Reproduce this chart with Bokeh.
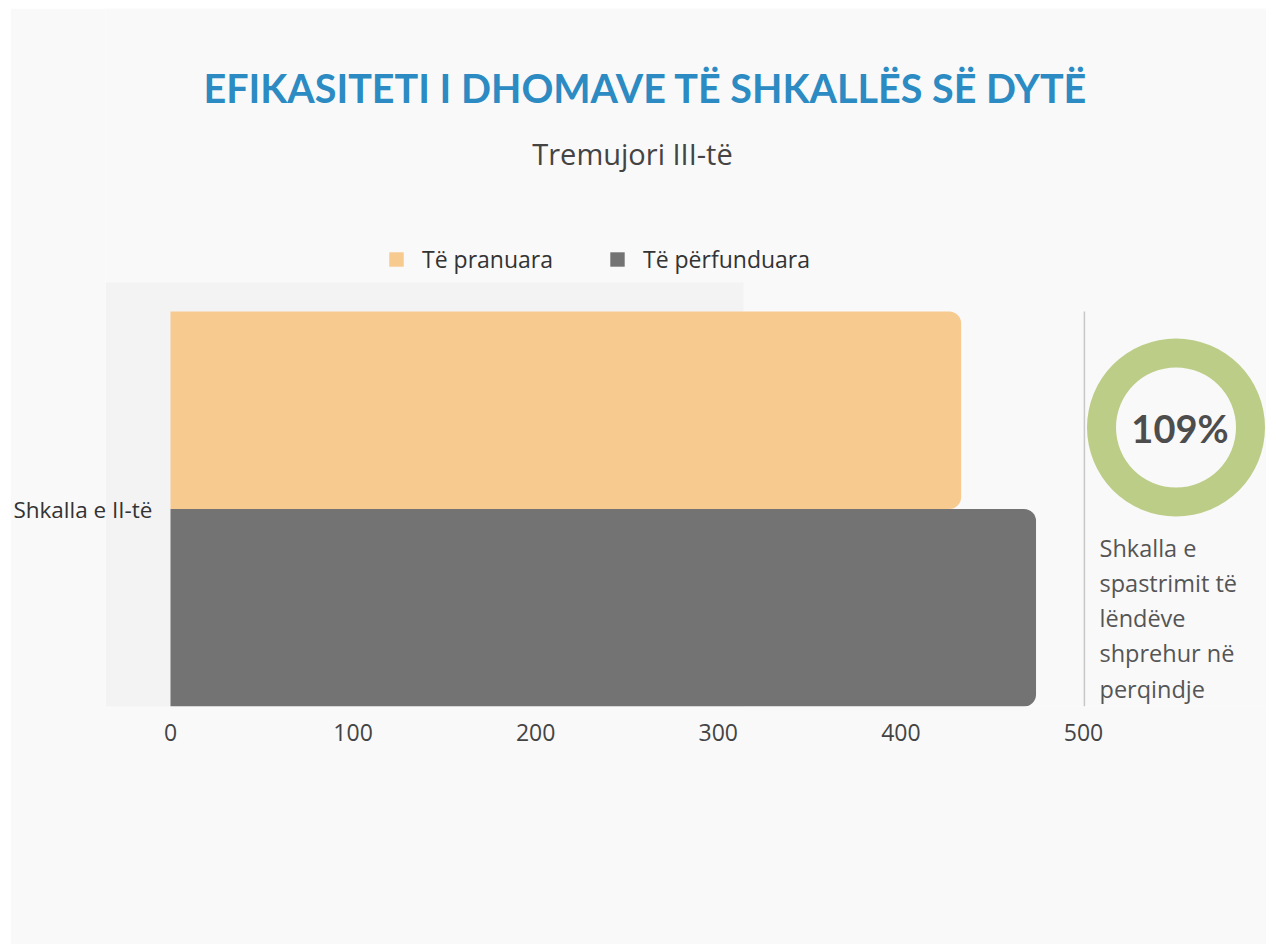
from bokeh.plotting import figure
from bokeh.models import (Range1d, FixedTicker, Label, Legend, LegendItem,
                          BoxAnnotation, ColumnDataSource)
from bokeh.embed import file_html
from bokeh.resources import INLINE

# ---- data ----
categories = ["Shkalla e II-të"]
series_names = ["Të pranuara", "Të përfunduara"]
received = [433]
completed = [474]
x_ticks = [0, 100, 200, 300, 400, 500]
title_text = "EFIKASITETI I DHOMAVE TË SHKALLËS SË DYTË"
subtitle_text = "Tremujori III-të"
donut_caption = ["Shkalla e", "spastrimit të", "lëndëve", "shprehur në", "perqindje"]
colors = ["#f7ca8f", "#737373"]

clearance = round(completed[0] / received[0] * 100)

BG = "#f9f9f9"
W, H = 1256, 936
ML, MT = 10, 8                 # page offset of the figure
FL, FB, FT = 105, 706, 8       # frame left / bottom / top (page px)
X0 = 170                       # page px of value 0
px_per_unit = 913 / 500
bar_px = 395                   # page px spanned by one category

def sx(page_x):
    return page_x - FL

def sy(page_y):
    return FB - page_y

x_start = -(X0 - FL) / px_per_unit
x_end = (ML + W - X0) / px_per_unit
y_end = (FB - FT) / bar_px

p = figure(width=W, height=H, output_backend="svg", toolbar_location=None,
           x_range=Range1d(x_start, x_end), y_range=Range1d(0, y_end),
           min_border_left=FL - ML, min_border_right=0, min_border_top=FT - MT,
           min_border_bottom=H - (FB - MT))
p.margin = (MT, 0, 0, ML)
p.background_fill_color = BG
p.border_fill_color = BG
p.outline_line_color = None
p.grid.visible = False

# backdrop panel
p.add_layout(BoxAnnotation(left=0, right=sx(743), top=sy(282), bottom=sy(712),
                           left_units="screen", right_units="screen",
                           top_units="screen", bottom_units="screen",
                           fill_color="#f3f3f3", fill_alpha=1, line_color=None,
                           level="underlay"))

# category positions
ys = [len(categories) - 1 - i + 0.5 for i in range(len(categories))]
src = ColumnDataSource(dict(y_r=[y + 0.25 for y in ys], y_c=[y - 0.25 for y in ys],
                            received=received, completed=completed))
r1 = p.hbar(y="y_r", right="received", left=0, height=0.5, source=src,
            fill_color=colors[0], line_color=None, border_radius=(0, 12, 12, 0))
r2 = p.hbar(y="y_c", right="completed", left=0, height=0.5, source=src,
            fill_color=colors[1], line_color=None, border_radius=(0, 12, 12, 0))

# axes
p.xaxis.ticker = FixedTicker(ticks=x_ticks)
p.xaxis.axis_line_color = None
p.xaxis.major_tick_line_color = None
p.xaxis.major_tick_out = 0
p.xaxis.minor_tick_line_color = None
p.xaxis.major_label_text_font = "Open Sans"
p.xaxis.major_label_text_font_size = "23px"
p.xaxis.major_label_text_color = "#444444"
p.xaxis.major_label_standoff = 17

p.yaxis.ticker = FixedTicker(ticks=ys)
p.yaxis.major_label_overrides = {y: c for y, c in zip(ys, categories)}
p.yaxis.axis_line_color = None
p.yaxis.major_tick_line_color = None
p.yaxis.major_tick_out = 0
p.yaxis.minor_tick_line_color = None
p.yaxis.major_label_text_font = "Open Sans"
p.yaxis.major_label_text_font_size = "22.5px"
p.yaxis.major_label_text_color = "#333333"
p.yaxis.major_label_standoff = -(X0 - FL) + 18

# separator between bars and donut, spanning the category band
p.segment(x0=[x_ticks[-1] + 0.5], y0=[0], x1=[x_ticks[-1] + 0.5], y1=[len(categories)],
          line_color="#c8c8c8", line_width=1.5)

# donut
dx, dy = (1175.5 - X0) / px_per_unit, (FB - 427) / bar_px
if clearance >= 100:
    p.annulus(x=[dx], y=[dy], inner_radius=60, outer_radius=89,
              inner_radius_units="screen", outer_radius_units="screen",
              fill_color="#bccd87", line_color=None)
else:
    import math
    p.annular_wedge(x=[dx], y=[dy], inner_radius=60, outer_radius=89,
                    inner_radius_units="screen", outer_radius_units="screen",
                    start_angle=math.pi / 2, end_angle=math.pi / 2 - 2 * math.pi * clearance / 100,
                    direction="clock", fill_color="#bccd87", line_color=None)
p.add_layout(Label(x=dx, y=dy, x_offset=4, text=f"{clearance}%", text_align="center",
                   text_baseline="middle", text_font="Lato", text_font_style="bold",
                   text_font_size="38px", text_color="#4d4d4d"))

# caption lines
for i, line in enumerate(donut_caption):
    p.add_layout(Label(x=sx(1099), y=sy(547 + 35.3 * i), x_units="screen", y_units="screen",
                       text=line, text_align="left", text_baseline="middle",
                       text_font="Open Sans", text_font_size="23.5px", text_color="#555555"))

# titles
p.add_layout(Label(x=sx(645), y=sy(87), x_units="screen", y_units="screen",
                   text=title_text, text_align="center", text_baseline="middle",
                   text_font="Lato", text_font_style="bold", text_font_size="39.5px",
                   text_color="#2b8bc2"))
p.add_layout(Label(x=sx(632), y=sy(153), x_units="screen", y_units="screen",
                   text=subtitle_text, text_align="center", text_baseline="middle",
                   text_font="Open Sans", text_font_size="29px", text_color="#444444"))

# legend
legend = Legend(items=[LegendItem(label=series_names[0], renderers=[r1]),
                       LegendItem(label=series_names[1], renderers=[r2])],
                location=(sx(387), sy(275)), orientation="horizontal",
                padding=0, margin=0, spacing=55, glyph_width=18, glyph_height=18,
                label_standoff=17, label_text_font="Open Sans", label_text_font_size="23px",
                label_text_color="#333333", border_line_color=None,
                background_fill_alpha=0)
p.add_layout(legend, "center")

open("out.html", "w").write(file_html(p, INLINE))
